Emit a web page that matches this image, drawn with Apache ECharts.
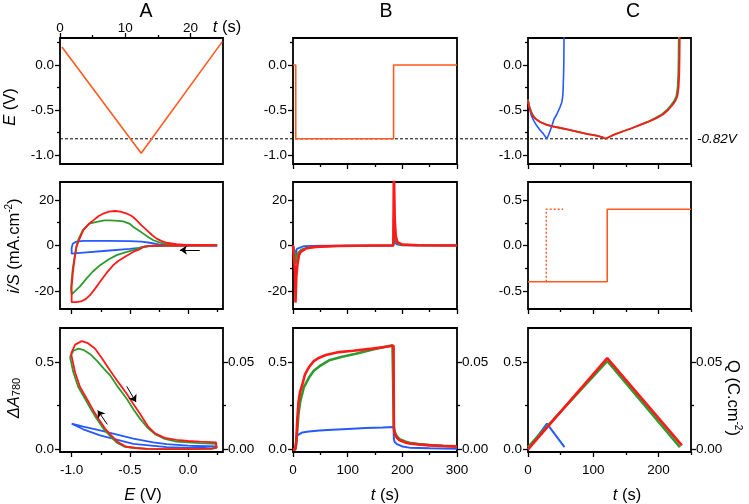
<!DOCTYPE html>
<html><head><meta charset="utf-8">
<script src="https://cdn.jsdelivr.net/npm/echarts@6/dist/echarts.min.js"></script>
<style>html,body{margin:0;padding:0;background:#fff}#c{width:749px;height:504px}</style>
</head><body><div id="c"></div>
<script>
// ---------------- DATA ----------------
// Row 1, A: potential vs time (triangular sweep)
const triT = [0.3, 12.45, 24.9];
const triE = [0.2, -0.98, 0.26];
// Row 1, B: potential step
const stepT = [0, 5, 5, 184, 184, 300];
const stepE = [0, 0, -0.82, -0.82, 0, 0];
// Row 1, C: chronopotentiometry E(t)
const cpBlueT = [0,2,5,9,13,18,23,29,32,36,40,44,49,52,53.5,54,54.6,55,55.3];
const cpBlueE = [-0.39,-0.47,-0.56,-0.62,-0.67,-0.72,-0.76,-0.82,-0.77,-0.69,-0.6,-0.55,-0.47,-0.41,-0.33,-0.24,-0.1,0.05,0.35];
const cpGreenT = [0,1,2.6,5,7.7,12,18,27,36,50,60,75,90,105,115,119,121,122,130,146,160,172,184,195,205,213,219,224,227.5,229.5,230.5,231,231.3];
const cpGreenE = [-0.38,-0.43,-0.47,-0.52,-0.56,-0.6,-0.63,-0.66,-0.68,-0.7,-0.715,-0.74,-0.765,-0.785,-0.805,-0.82,-0.815,-0.8,-0.78,-0.736,-0.7,-0.665,-0.63,-0.59,-0.55,-0.5,-0.45,-0.4,-0.35,-0.25,-0.1,0.1,0.35];
const cpRedT = [0,1,2.6,5,7.7,12,18,27,36,50,60,75,90,105,115,119,121,122,130,146,160,172,185,197,207,215,221,226,229,231,232,232.5,232.8];
const cpRedE = [-0.39,-0.44,-0.48,-0.53,-0.57,-0.6,-0.63,-0.66,-0.68,-0.7,-0.715,-0.74,-0.765,-0.785,-0.805,-0.82,-0.815,-0.8,-0.78,-0.736,-0.7,-0.665,-0.63,-0.59,-0.55,-0.5,-0.45,-0.4,-0.35,-0.25,-0.1,0.1,0.35];
// Row 2, A: cyclic voltammograms i/S vs E
const cvBlueE = [0.25,-0.2,-0.35,-0.42,-0.5,-0.7,-0.9,-1.0,-1.01,-1.0,-0.99,-0.96,-0.9,-0.7,-0.5,-0.4,-0.33,-0.25,-0.1,0.25];
const cvBlueI = [0,0,-0.3,-1.0,-1.5,-2.3,-3.1,-3.6,-3.0,-1.0,0.8,1.7,2.0,2.0,1.9,1.7,1.2,0.5,0.2,0.1];
const cvGreenE = [0.25,0,-0.3,-0.4,-0.47,-0.54,-0.613,-0.68,-0.756,-0.82,-0.871,-0.93,-1.0,-1.005,-1.0,-0.99,-0.975,-0.96,-0.94,-0.9,-0.85,-0.785,-0.72,-0.67,-0.6,-0.556,-0.5,-0.47,-0.42,-0.384,-0.34,-0.298,-0.24,-0.184,-0.1,0.25];
const cvGreenI = [0,0,-0.1,-0.8,-2,-3,-4.2,-6,-8.6,-11.5,-14.4,-18,-21.4,-19,-15,-10,-5,-0.5,3,7,9.6,10.3,11,11,10.8,10.6,9.5,8.1,6.5,5.2,3.6,2.3,1.3,0.7,0.4,0.2];
const cvRedE = [0.25,0,-0.3,-0.38,-0.42,-0.46,-0.527,-0.6,-0.642,-0.7,-0.756,-0.8,-0.842,-0.88,-0.92,-0.96,-1.0,-1.01,-1.0,-0.99,-0.975,-0.96,-0.943,-0.9,-0.85,-0.814,-0.77,-0.728,-0.68,-0.627,-0.58,-0.527,-0.48,-0.441,-0.4,-0.355,-0.31,-0.27,-0.23,-0.184,-0.1,-0.04,0.25];
const cvRedI = [0,0,-0.1,-0.5,-1.8,-2.5,-4.5,-6.8,-8.6,-12,-15.9,-19,-21.7,-23.5,-24.5,-24.8,-24.8,-24,-18,-12,-6,-1,1.6,6.7,9.5,11,12.8,14,14.8,15.1,14.8,14,12.8,11,8.8,6.7,4.6,3,2,1.2,0.6,0.4,0.2];
// Row 2, B: current transients
const itBlueT = [0,3,4,5,7,10,20,50,183.5,184.5,186,190,200,300];
const itBlueI = [0,0,-3,-5,-1.5,-0.7,-0.3,-0.1,0,3,1.5,0.5,0.1,0];
const itGreenT = [0,3,4,5,6,7,10,15,25,50,100,183.5,184.5,186,189,195,220,300];
const itGreenI = [0,0,-4,-8,-6.5,-5,-3,-1.8,-1,-0.4,-0.1,0,12,4,1.5,0.5,0.1,0];
const itRedT = [0,3,4,4.5,5,6,8,11,14,17,25,42,80,150,183.5,184,184.5,186,188,191,200,230,300];
const itRedI = [0,0,-12,-25,-22,-14,-8.6,-4.2,-2.8,-2,-1.2,-0.6,-0.2,0,0,15,35,12,4,1.5,0.4,0.1,0];
// Row 2, C: applied current steps
const ccSolidT = [0, 121.5, 121.5, 250];
const ccSolidI = [-0.4, -0.4, 0.4, 0.4];
const ccDotT = [28, 28, 54];
const ccDotI = [-0.4, 0.4, 0.4];
// Row 3, A: ΔA780 vs E
const absBlueE = [-1.0,-0.9,-0.756,-0.6,-0.47,-0.3,-0.184,0,0.24,0.24,0,-0.184,-0.47,-0.756,-0.9,-1.0];
const absBlueA = [0.147,0.13,0.109,0.083,0.061,0.04,0.03,0.022,0.017,0.008,0.008,0.013,0.032,0.08,0.115,0.147];
const absGreenE = [-1.014,-0.985,-0.943,-0.9,-0.84,-0.78,-0.72,-0.67,-0.6,-0.527,-0.47,-0.413,-0.35,-0.28,-0.2,-0.1,0,0.1,0.24,0.245,0.2,0,-0.2,-0.35,-0.45,-0.545,-0.615,-0.675,-0.728,-0.785,-0.828,-0.885,-0.943,-0.985,-1.014];
const absGreenA = [0.529,0.565,0.577,0.57,0.545,0.505,0.46,0.424,0.355,0.29,0.23,0.176,0.125,0.085,0.06,0.045,0.04,0.036,0.032,0.008,0.003,0.002,0.002,0.003,0.008,0.015,0.04,0.08,0.119,0.175,0.223,0.29,0.357,0.44,0.529];
const absRedE = [-1.005,-0.97,-0.914,-0.86,-0.8,-0.74,-0.67,-0.6,-0.527,-0.47,-0.413,-0.341,-0.28,-0.2,-0.1,0,0.1,0.24,0.245,0.2,0,-0.2,-0.35,-0.45,-0.53,-0.6,-0.66,-0.713,-0.77,-0.814,-0.87,-0.928,-0.97,-1.005];
const absRedA = [0.548,0.6,0.62,0.608,0.578,0.522,0.452,0.385,0.319,0.26,0.204,0.128,0.09,0.066,0.054,0.048,0.044,0.04,0.01,0.004,0.002,0.002,0.003,0.008,0.015,0.04,0.08,0.119,0.175,0.223,0.29,0.357,0.44,0.548];
// Row 3, B: ΔA780 vs t
const absBBlueT = [0,4,5,6,8,11,17,29,48,72,100,133,164,184,184.5,186,190,200,213,250,300];
const absBBlueA = [0,0,0.02,0.06,0.08,0.09,0.097,0.103,0.108,0.113,0.117,0.122,0.125,0.128,0.06,0.042,0.03,0.017,0.01,0.006,0.004];
const absBGreenT = [0,4,5,6,8,10,13,17,20,29,38,48,66,90,115,150,182,184,184.5,186,190,195,205,213,230,250,275,300];
const absBGreenA = [0,0,0.003,0.03,0.12,0.2,0.27,0.32,0.357,0.41,0.45,0.475,0.51,0.53,0.548,0.575,0.596,0.598,0.13,0.1,0.075,0.058,0.045,0.038,0.03,0.025,0.021,0.018];
const absBRedT = [0,4,5,6,8,10,13,17,22,29,38,48,60,84,110,145,164,184,184.5,186,190,195,205,213,230,250,275,300];
const absBRedA = [0,0,0.005,0.05,0.18,0.27,0.33,0.37,0.43,0.47,0.505,0.525,0.54,0.557,0.565,0.577,0.585,0.593,0.12,0.09,0.066,0.052,0.04,0.034,0.028,0.023,0.019,0.016];
// Row 3, C: charge Q vs t (C.cm-2)
const chgBlueT = [0, 29, 56];
const chgBlueQ = [0, 0.0147, 0.0013];
const chgGreenT = [0, 121.5, 233];
const chgGreenQ = [0.0013, 0.0506, 0.0013];
const chgRedT = [0, 121.5, 236];
const chgRedQ = [0, 0.0523, 0.0023];
// Tick values
const eTicks = [-1.0, -0.5, 0.0], eMinor = [-0.75, -0.25, 0.25];
const tTopTicks = [0, 10, 20], tTopMinor = [5, 15];
const tB = [0, 100, 200, 300], tBMinor = [50, 150, 250];
const tC = [0, 100, 200], tCMinor = [50, 150, 250];
const iTicks = [-20, 0, 20], iMinor = [-10, 10];
const iCTicks = [-0.5, 0, 0.5], iCMinor = [-0.25, 0.25];
const aTicks = [0, 0.5], aMinor = [0.25];
const qTicks = [0, 0.05], qMinor = [0.025];

// ---------------- CHART ----------------
const FONT = 'Liberation Sans, Arial, Helvetica, sans-serif';
const ORANGE = '#ff5a1f', RED = '#ff1a1a', GREEN = '#2f9a2f', BLUE = '#2659ff';
const colL = [60, 293, 528], colW = [163, 164, 163];
const rowT = [38, 182, 328], rowH = [126, 127, 124];
const grids = [];
for (let r = 0; r < 3; r++) for (let c = 0; c < 3; c++)
  grids.push({left: colL[c], top: rowT[r], width: colW[c], height: rowH[r], show: true,
    borderColor: '#000', borderWidth: 1.8, backgroundColor: 'transparent', containLabel: false, outerBoundsMode: 'none'});

const xAxis = [], yAxis = [];
const tickLine = {color: '#000', width: 1.3};
function axisPair(arr, base, majors, minors, labelOpt) {
  const idx = arr.length;
  arr.push(Object.assign({type: 'value'}, base, {
    axisLine: {show: false, onZero: false}, splitLine: {show: false},
    axisTick: {show: true, length: 5, customValues: majors, lineStyle: tickLine},
    axisLabel: labelOpt ? Object.assign({show: true, customValues: majors, color: '#000', fontSize: 13.5, fontFamily: FONT}, labelOpt) : {show: false}
  }));
  if (minors && minors.length) arr.push(Object.assign({type: 'value'}, base, {
    axisLine: {show: false, onZero: false}, splitLine: {show: false},
    axisTick: {show: true, length: 3, customValues: minors, lineStyle: tickLine},
    axisLabel: {show: false}
  }));
  return idx;
}
const f0 = v => v.toFixed(0), f1 = v => v.toFixed(1), f2 = v => v.toFixed(2);
const X = [], Y = [], YR = [];
// row 1
X[0] = axisPair(xAxis, {gridIndex: 0, min: 0, max: 25, position: 'top'}, tTopTicks, tTopMinor, {formatter: f0, margin: 3});
X[1] = axisPair(xAxis, {gridIndex: 1, min: 0, max: 300, position: 'bottom'}, tB, tBMinor, null);
X[2] = axisPair(xAxis, {gridIndex: 2, min: 0, max: 250, position: 'bottom'}, tC, tCMinor, null);
for (let g = 0; g < 3; g++) Y[g] = axisPair(yAxis, {gridIndex: g, min: -1.1, max: 0.3, position: 'left'}, eTicks, eMinor, {formatter: f1, margin: 6});
// row 2
X[3] = axisPair(xAxis, {gridIndex: 3, min: -1.1, max: 0.3, position: 'bottom'}, eTicks, eMinor, null);
X[4] = axisPair(xAxis, {gridIndex: 4, min: 0, max: 300, position: 'bottom'}, tB, tBMinor, null);
X[5] = axisPair(xAxis, {gridIndex: 5, min: 0, max: 250, position: 'bottom'}, tC, tCMinor, null);
Y[3] = axisPair(yAxis, {gridIndex: 3, min: -27.8, max: 27.8, position: 'left'}, iTicks, iMinor, {formatter: f0, margin: 6});
Y[4] = axisPair(yAxis, {gridIndex: 4, min: -27.8, max: 27.8, position: 'left'}, iTicks, iMinor, {formatter: f0, margin: 6});
Y[5] = axisPair(yAxis, {gridIndex: 5, min: -0.7, max: 0.7, position: 'left'}, iCTicks, iCMinor, {formatter: f1, margin: 6});
// row 3
X[6] = axisPair(xAxis, {gridIndex: 6, min: -1.1, max: 0.3, position: 'bottom'}, eTicks, eMinor, {formatter: f1, margin: 11});
X[7] = axisPair(xAxis, {gridIndex: 7, min: 0, max: 300, position: 'bottom'}, tB, tBMinor, {formatter: f0, margin: 11});
X[8] = axisPair(xAxis, {gridIndex: 8, min: 0, max: 250, position: 'bottom'}, tC, tCMinor, {formatter: f0, margin: 11});
for (let g = 6; g < 9; g++) {
  Y[g] = axisPair(yAxis, {gridIndex: g, min: -0.015, max: 0.695, position: 'left'}, aTicks, aMinor, {formatter: f1, margin: 6});
  YR[g] = axisPair(yAxis, {gridIndex: g, min: -0.0015, max: 0.0695, position: 'right'}, qTicks, qMinor, {formatter: f2, margin: 5});
}

function line(xi, yi, xs, ys, color, width, extra) {
  return Object.assign({type: 'line', xAxisIndex: xi, yAxisIndex: yi,
    data: xs.map((v, i) => [v, ys[i]]), showSymbol: false, symbol: 'none',
    animation: false, silent: true, clip: true,
    lineStyle: {color: color, width: width}, itemStyle: {color: color}}, extra || {});
}
function arrow(from, to) {
  return {markLine: {silent: true, animation: false, symbol: ['none', 'arrow'], symbolSize: 7,
    lineStyle: {color: '#000', width: 1, type: 'solid'}, label: {show: false}, emphasis: {disabled: true},
    data: [[{coord: from}, {coord: to}]]}};
}

const series = [
  line(X[0], Y[0], triT, triE, ORANGE, 1.6),
  line(X[1], Y[1], stepT, stepE, ORANGE, 1.6),
  line(X[2], Y[2], cpBlueT, cpBlueE, BLUE, 1.6),
  line(X[2], Y[2], cpGreenT, cpGreenE, GREEN, 1.8),
  line(X[2], Y[2], cpRedT, cpRedE, RED, 1.8),
  line(X[3], Y[3], cvBlueE, cvBlueI, BLUE, 1.8),
  line(X[3], Y[3], cvGreenE, cvGreenI, GREEN, 1.8),
  line(X[3], Y[3], cvRedE, cvRedI, RED, 1.8, arrow([0.1, -2], [-0.07, -2])),
  line(X[4], Y[4], itBlueT, itBlueI, BLUE, 1.8),
  line(X[4], Y[4], itGreenT, itGreenI, GREEN, 2),
  line(X[4], Y[4], itRedT, itRedI, RED, 2.6),
  line(X[5], Y[5], ccSolidT, ccSolidI, ORANGE, 1.6),
  line(X[5], Y[5], ccDotT, ccDotI, ORANGE, 1.4, {lineStyle: {color: ORANGE, width: 1.4, type: [2, 2]}}),
  line(X[6], Y[6], absBlueE, absBlueA, BLUE, 1.8),
  line(X[6], Y[6], absGreenE, absGreenA, GREEN, 1.8),
  line(X[6], Y[6], absRedE, absRedA, RED, 1.8, arrow([-0.527, 0.361], [-0.447, 0.271])),
  line(X[6], Y[6], absRedE.slice(0, 1), absRedA.slice(0, 1), RED, 1, arrow([-0.694, 0.143], [-0.776, 0.223])),
  line(X[7], Y[7], absBBlueT, absBBlueA, BLUE, 2),
  line(X[7], Y[7], absBGreenT, absBGreenA, GREEN, 2.6),
  line(X[7], Y[7], absBRedT, absBRedA, RED, 2.6),
  line(X[8], YR[8], chgBlueT, chgBlueQ, BLUE, 2),
  line(X[8], YR[8], chgGreenT, chgGreenQ, GREEN, 2.6),
  line(X[8], YR[8], chgRedT, chgRedQ, RED, 2.6)
];

const chart = echarts.init(document.getElementById('c'), null, {renderer: 'canvas'});
chart.setOption({animation: false, backgroundColor: '#fff', grid: grids, xAxis: xAxis, yAxis: yAxis, series: series});

const txt = (x, y, text, size, rich, rot, align) => ({type: 'text', x: x, y: y, rotation: rot || 0, silent: true,
  style: {text: text, fontSize: size, fontFamily: FONT, fill: '#000', align: align || 'center', verticalAlign: 'middle', rich: rich || {}}});
const it16 = {fontStyle: 'italic', fontSize: 16.5, fontFamily: FONT, fill: '#000'};
const sup = {fontSize: 10, fontFamily: FONT, fill: '#000', verticalAlign: 'top'};
const sub = {fontSize: 11, fontFamily: FONT, fill: '#000', verticalAlign: 'bottom'};
const n16 = {fontSize: 16.5, fontFamily: FONT, fill: '#000', lineHeight: 19};
const yDash = chart.convertToPixel({yAxisIndex: Y[0]}, -0.82);
chart.setOption({graphic: [
  {type: 'line', silent: true, shape: {x1: 60, y1: yDash, x2: 691, y2: yDash}, style: {stroke: '#000', lineWidth: 1, lineDash: [3, 2]}, z: 1},
  txt(146, 12, 'A', 19.5), txt(386, 12, 'B', 19.5), txt(633, 12, 'C', 19.5),
  txt(227, 27, '{i|t}{n| (s)}', 16, {i: it16, n: n16}),
  txt(10, 107, '{i|E}{n| (V)}', 16, {i: it16, n: n16}, Math.PI / 2),
  txt(14, 246, '{i|i/S}{n| (mA.cm}{s|-2}{n|)}', 16, {i: it16, n: n16, s: sup}, Math.PI / 2),
  txt(14, 398, '{i|ΔA}{b|780}', 16, {i: it16, b: sub}, Math.PI / 2),
  txt(733, 398, '{n|Q (C.cm}{s|-2}{n|)}', 16, {n: n16, s: sup}, -Math.PI / 2),
  txt(143, 495, '{i|E}{n| (V)}', 16, {i: it16, n: n16}),
  txt(385, 495, '{i|t}{n| (s)}', 16, {i: it16, n: n16}),
  txt(627, 495, '{i|t}{n| (s)}', 16, {i: it16, n: n16}),
  {type: 'text', x: 697, y: yDash, silent: true, style: {text: '-0.82V', fontSize: 13.5, fontStyle: 'italic', fontFamily: FONT, fill: '#000', align: 'left', verticalAlign: 'middle'}}
]});
</script></body></html>
